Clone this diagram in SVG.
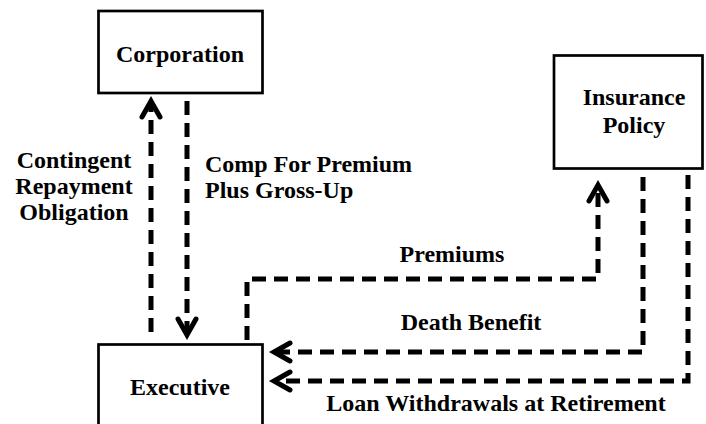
<svg xmlns="http://www.w3.org/2000/svg" width="706" height="424" viewBox="0 0 706 424">
<style>
.box{fill:#fff;stroke:#000;stroke-width:2.7}
.lbl{font-family:"Times New Roman","Liberation Serif","DejaVu Serif",serif;font-weight:bold;font-size:24px;fill:#000}
.c{text-anchor:middle}
.flow{fill:none;stroke:#000;stroke-width:5;stroke-dasharray:14 8}
</style>
<defs>
<marker id="ah" markerUnits="userSpaceOnUse" orient="auto" markerWidth="30" markerHeight="30" refX="0" refY="0" viewBox="-20 -15 30 30" overflow="visible">
<path d="M-16,-9 L0,0 L-16,9" fill="none" stroke="#000" stroke-width="5" stroke-linecap="round" stroke-linejoin="miter"/>
</marker>
</defs>
<rect width="706" height="424" fill="#fff"/>
<g id="connectors">
<path class="flow" d="M151,332 L151,101" marker-end="url(#ah)"/>
<path class="flow" d="M187,101 L187,335" marker-end="url(#ah)"/>
<path class="flow" d="M247,340 L247,279 L598,279 L598,185" marker-end="url(#ah)"/>
<path class="flow" d="M643,177 L643,352 L274,352" marker-end="url(#ah)"/>
<path class="flow" d="M688,175 L688,381 L274,381" marker-end="url(#ah)"/>
</g>
<g id="corporation">
<rect class="box" x="98.5" y="11" width="164" height="82"/>
<text class="lbl c" x="180" y="62">Corporation</text>
</g>
<g id="insurance-policy">
<rect class="box" x="554" y="55.5" width="148.5" height="113"/>
<text class="lbl c" x="634" y="105">Insurance</text>
<text class="lbl c" x="634" y="133">Policy</text>
</g>
<g id="executive">
<rect class="box" x="98.5" y="344.5" width="164" height="90"/>
<text class="lbl c" x="180" y="395">Executive</text>
</g>
<g id="labels">
<text class="lbl c" x="74" y="168">Contingent</text>
<text class="lbl c" x="74" y="194">Repayment</text>
<text class="lbl c" x="74" y="220">Obligation</text>
<text class="lbl" x="205" y="172">Comp For Premium</text>
<text class="lbl" x="205" y="198">Plus Gross-Up</text>
<text class="lbl c" x="452" y="262">Premiums</text>
<text class="lbl c" x="471" y="330">Death Benefit</text>
<text class="lbl c" x="496" y="411">Loan Withdrawals at Retirement</text>
</g>
</svg>
